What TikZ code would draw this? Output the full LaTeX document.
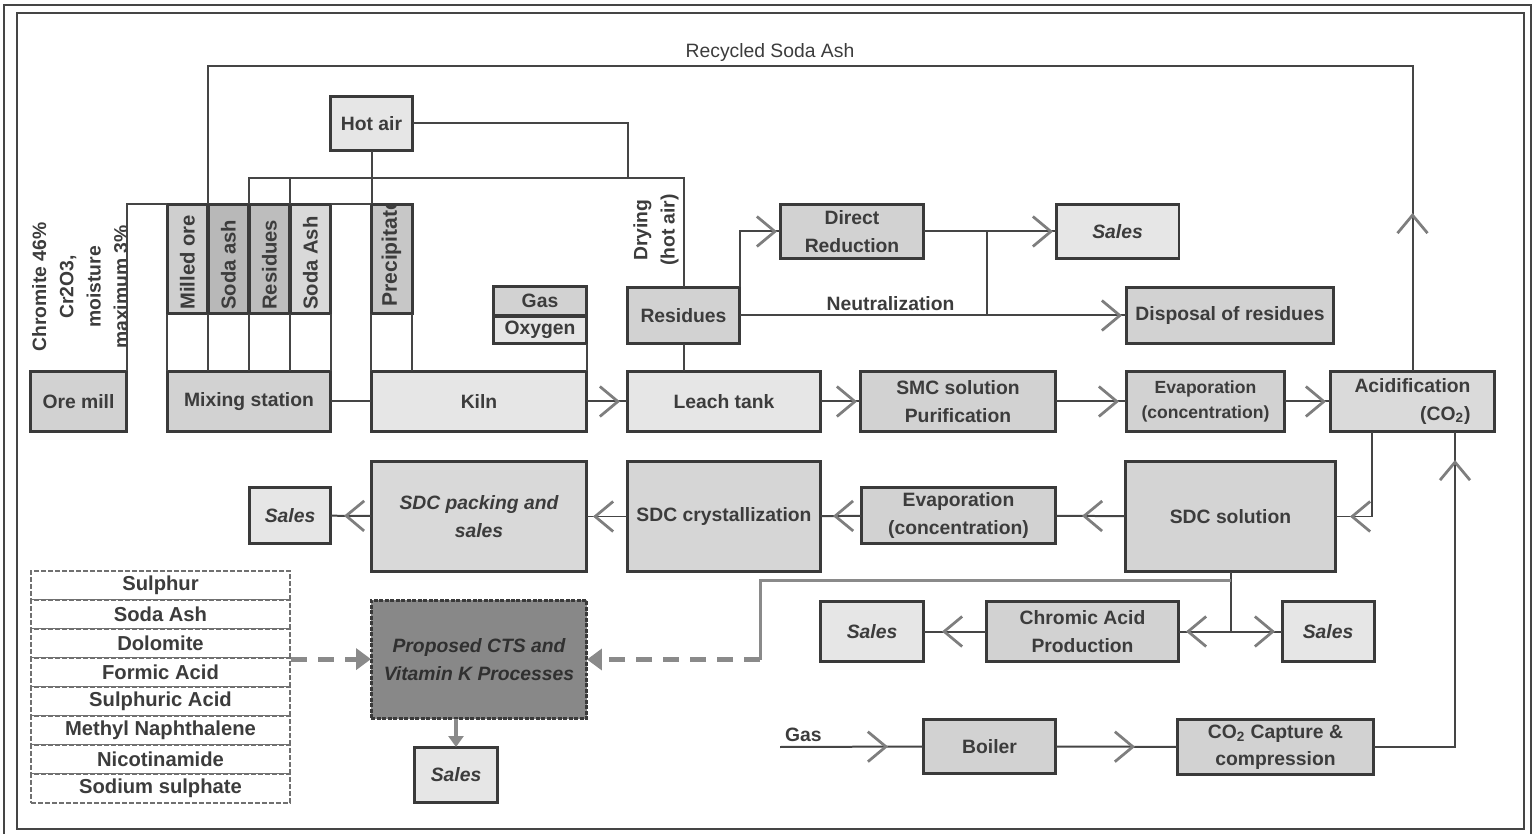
\documentclass[tikz,border=0pt]{standalone}
\usepackage{fontspec}
\setmainfont{Liberation Sans}
\usetikzlibrary{arrows.meta,decorations.markings}
\definecolor{boxline}{HTML}{3A3A3A}
\definecolor{linkline}{HTML}{454545}
\definecolor{boxtext}{HTML}{3C3C3C}
\definecolor{chevgray}{HTML}{7E7E7E}
\definecolor{fillA}{HTML}{E6E6E6}
\definecolor{fillB}{HTML}{D2D2D2}
\definecolor{fillC}{HTML}{DADADA}
\definecolor{fillD}{HTML}{888888}
\definecolor{propText}{HTML}{303030}
\definecolor{dashgray}{HTML}{8A8A8A}
\definecolor{listgray}{HTML}{707070}
\tikzset{chev/.tip={Straight Barb[length=0.36cm,width=0.6cm,line width=0.055cm,color=chevgray]}}
\tikzstyle{block} = [draw=boxline, line width=0.06cm, rectangle, inner sep=0pt, outer sep=0pt,
text=boxtext, align=center, font=\fontsize{11}{15.5}\selectfont\bfseries]
\tikzstyle{process} = [block, fill=fillB]
\tikzstyle{light} = [block, fill=fillA]
\tikzstyle{sales} = [block, fill=fillA, font=\fontsize{11}{15.5}\selectfont\bfseries\itshape]
\tikzstyle{feed} = [block, minimum width=0.82cm, minimum height=2.2cm]
\tikzstyle{feedtext} = [rotate=90, anchor=west, text=boxtext, inner sep=0pt, font=\fontsize{11.5}{13}\selectfont\bfseries]
\tikzstyle{material} = [draw=listgray, dash pattern=on 0.1cm off 0.04cm, line width=0.045cm, fill=white,
minimum width=5.18cm, minimum height=0.58cm, inner sep=0pt, text=boxtext, font=\fontsize{11.5}{13}\selectfont\bfseries]
\tikzstyle{link} = [draw=linkline, line width=0.04cm]
\tikzstyle{dashArrow} = [draw=dashgray, line width=0.1cm, dash pattern=on 0.32cm off 0.22cm, -{Triangle[length=0.3cm,width=0.42cm]}]
\tikzstyle{lbl} = [text=boxtext, inner sep=1pt, font=\fontsize{11}{15.5}\selectfont\bfseries]
\tikzset{flowArrow/.style={link, postaction={decorate, decoration={markings,
mark=at position -#1*0.02cm with {\arrow{chev}}}}}, flowArrow/.default=6}

\begin{document}
\begin{tikzpicture}[x=0.02cm, y=-0.02cm]
		\useasboundingbox (0,0) rectangle (1532,834);
		%frame
		\draw[link] (4,5) rectangle (1531,840);
		\draw[link] (17,13) rectangle (1524,829);

		%main line
		\node[process, minimum width=1.94cm, minimum height=1.22cm](oremill) at (78.5,401.5){Ore mill};
		\node[process, minimum width=3.28cm, minimum height=1.22cm](mixing) at (249,401.5){Mixing station};
		\node[light, minimum width=4.32cm, minimum height=1.22cm](kiln) at (479,401.5){Kiln};
		\node[light, minimum width=3.88cm, minimum height=1.22cm](leach) at (724,401.5){Leach tank};
		\node[process, minimum width=3.92cm, minimum height=1.22cm](smc) at (958,401.5){SMC solution\\Purification};
		\node[process, minimum width=3.18cm, minimum height=1.22cm, font=\fontsize{10}{14}\selectfont\bfseries](evap_top) at (1205.5,401.5){Evaporation\\(concentration)};
		\node[block, fill=fillC, minimum width=3.3cm, minimum height=1.22cm, align=right](acid) at (1412.5,401.5){Acidification\\(CO\textsubscript{2})};

		%feeds to mixing and kiln
		\node[feed, fill=black!19](milled) at (187.5,259){};
		\node[feed, fill=black!28](soda_ash) at (228.5,259){};
		\node[feed, fill=black!26](residues_in) at (269.5,259){};
		\node[feed, fill=black!15](soda_ash2) at (310.5,259){};
		\node[feed, fill=black!22](precip) at (391.5,259){};
		\node[feedtext](milled_t) at ([yshift=0.08cm]milled.south){Milled ore};
		\node[feedtext](soda_ash_t) at ([yshift=0.08cm]soda_ash.south){Soda ash};
		\node[feedtext](residues_in_t) at ([yshift=0.08cm]residues_in.south){Residues};
		\node[feedtext](soda_ash2_t) at ([yshift=0.08cm]soda_ash2.south){Soda Ash};
		\begin{scope}
			\clip (precip.south west) rectangle (precip.north east);
			\node[feedtext, font=\fontsize{12}{14}\selectfont\bfseries](precip_t) at ([yshift=0.14cm]precip.south){Precipitate};
		\end{scope}
		\node[lbl, rotate=90, align=center](chromite) at (80,287){Chromite 46\%\\Cr2O3,\\moisture\\maximum 3\%};

		\node[light, minimum width=1.66cm, minimum height=1.1cm](hotair) at (371.5,123.5){Hot air};
		\node[process, minimum width=1.88cm, minimum height=0.6cm](gas) at (540,301){Gas};
		\node[light, minimum width=1.88cm, minimum height=0.56cm](oxygen) at (540,330){Oxygen};

		%residues branch
		\node[process, minimum width=2.26cm, minimum height=1.14cm](residues) at (683.5,315.5){Residues};
		\node[process, minimum width=2.88cm, minimum height=1.1cm](reduction) at (852,231.5){Direct\\Reduction};
		\node[sales, minimum width=2.46cm, minimum height=1.1cm](sales_dr) at (1117.5,231.5){Sales};
		\node[process, minimum width=4.16cm, minimum height=1.14cm](disposal) at (1230,315.5){Disposal of residues};
		\node[lbl, rotate=90, align=center](drying) at (656,230){Drying\\(hot air)};

		%SDC line
		\node[block, fill=black!17, minimum width=4.22cm, minimum height=2.22cm](sdc_sol) at (1230.5,516.5){SDC solution};
		\node[process, minimum width=3.9cm, minimum height=1.14cm](evap_low) at (958.5,515.5){Evaporation\\(concentration)};
		\node[block, fill=black!16, minimum width=3.88cm, minimum height=2.22cm](cryst) at (724,516.5){SDC crystallization};
		\node[block, fill=black!15, minimum width=4.32cm, minimum height=2.22cm, font=\fontsize{11}{15.5}\selectfont\bfseries\itshape](packing) at (479,516.5){SDC packing and\\sales};
		\node[sales, minimum width=1.64cm, minimum height=1.14cm](sales_sdc) at (290,515.5){Sales};

		%chromic acid and proposed processes
		\node[process, minimum width=3.86cm, minimum height=1.22cm](chromic) at (1082.5,631.5){Chromic Acid\\Production};
		\node[sales, minimum width=1.84cm, minimum height=1.22cm](sales_right) at (1328,631.5){Sales};
		\node[sales, minimum width=2.08cm, minimum height=1.22cm](sales_ca) at (872,631.5){Sales};
		\node[draw=boxline, line width=0.06cm, fill=fillD, dash pattern=on 0.08cm off 0.03cm, minimum width=4.32cm, minimum height=2.38cm,
			inner sep=0pt, outer sep=0pt](proposed) at (479,659.5){};
		\node[align=center, text=propText, font=\fontsize{11}{15.5}\selectfont\bfseries\itshape](proposed_t) at (proposed){Proposed CTS and\\Vitamin K Processes};
		\node[sales, minimum width=1.68cm, minimum height=1.12cm](sales_cts) at (456,775){Sales};
		\foreach \mat [count=\i] in {Sulphur, Soda Ash, Dolomite, Formic Acid, Sulphuric Acid, Methyl Naphthalene, Nicotinamide, Sodium sulphate}
			\node[material](mat\i) at (160.5,556.5+29*\i){\mat};

		%CO2 line
		\node[process, minimum width=2.66cm, minimum height=1.1cm](boiler) at (989.5,746.5){Boiler};
		\node[process, minimum width=3.94cm, minimum height=1.12cm](co2) at (1275.5,747){CO\textsubscript{2} Capture \&\\compression};

		%coordinates for bends
		\coordinate (dry) at (683.5,178);
		\coordinate (hotjoin) at (628,178);
		\coordinate (neut) at (987,315.5);
		\coordinate (recyc) at (1412.5,212);
		\coordinate (rtop) at (1412.5,66);
		\coordinate (acid_out) at (1372,516.5);
		\coordinate (co2_up) at (1455,747);
		\coordinate (split) at (1230.5,631.5);
		\coordinate (tap) at (1230.5,580);
		\coordinate (bend) at (760,659.5);
		\coordinate (gas_in) at (780,747);

		%lines
		\draw[link](oremill.north east) |- (milled.north west);
		\draw[link](soda_ash2.north east) -- (precip.north west);
		\foreach \f in {milled, soda_ash, residues_in, soda_ash2}
			\draw[link](\f.south west) -- (\f.south west |- mixing.north);
		\draw[link](soda_ash2.south east) -- (soda_ash2.south east |- mixing.north);
		\draw[link](precip.south west) -- (precip.south west |- kiln.north);
		\draw[link](precip.south east) -- (precip.south east |- kiln.north);
		\draw[link](mixing) -- (kiln);
		\draw[link](hotair.south) -- (hotair.south |- precip.north);
		\draw[link](hotair.east) -| (hotjoin);
		\draw[link](residues.north) -- (dry) -| (residues_in.north west);
		\draw[link](soda_ash2.north west) -- (soda_ash2.north west |- dry);
		\draw[link](oxygen.south east) -- (oxygen.south east |- kiln.north);
		\draw[link](residues.south) -- (residues.south |- leach.north);

		%arrows
		\draw[flowArrow=7](kiln) -- (leach);
		\draw[flowArrow=3](leach) -- (smc);
		\draw[flowArrow=7](smc) -- (evap_top);
		\draw[flowArrow=4](evap_top) -- (acid);
		\draw[flowArrow=3](residues.north east) |- (reduction.west);
		\draw[flowArrow=3](reduction) -- (sales_dr);
		\draw[flowArrow=4](residues.east) -- (residues.east -| disposal.west)
			node[lbl, pos=0.39, above=1pt](neut_lab){Neutralization};
		\draw[link](neut |- reduction.east) -- (neut);
		\draw[flowArrow=1](acid.north) -- (recyc);
		\draw[link](recyc) -- (rtop) -| (soda_ash.north west);
		\node[lbl, font=\fontsize{11}{13}\selectfont](recycled) at (770,53){Recycled Soda Ash};
		\draw[flowArrow=14](acid_out |- acid.south) -- (acid_out) -- (sdc_sol.east);
		\draw[flowArrow=26](sdc_sol) -- (evap_low);
		\draw[flowArrow=12](evap_low) -- (cryst);
		\draw[flowArrow=6](cryst) -- (packing);
		\draw[flowArrow=13](packing) -- (sales_sdc);
		\draw[link](sdc_sol.south) -- (split);
		\draw[flowArrow=7](split) -- (chromic.east);
		\draw[flowArrow=7](split) -- (sales_right.west);
		\draw[flowArrow=18](chromic) -- (sales_ca);
		\draw[flowArrow=35](gas_in) -- (boiler.west);
		\node[lbl, anchor=south west](gas_lab) at (783,744){Gas};
		\draw[flowArrow=42](boiler) -- (co2);
		\draw[flowArrow=28](co2.east) -- (co2_up) -- (co2_up |- acid.south);

		%proposed processes
		\draw[draw=dashgray, line width=0.06cm](tap) -| (bend);
		\draw[dashArrow](bend) -- (proposed.east);
		\draw[dashArrow](mat3.south east) -- (mat3.south east -| proposed.west);
		\draw[draw=dashgray, line width=0.08cm, -{Triangle[length=0.22cm,width=0.3cm]}](proposed.south -| sales_cts) -- (sales_cts.north);
	\end{tikzpicture}
\end{document}
